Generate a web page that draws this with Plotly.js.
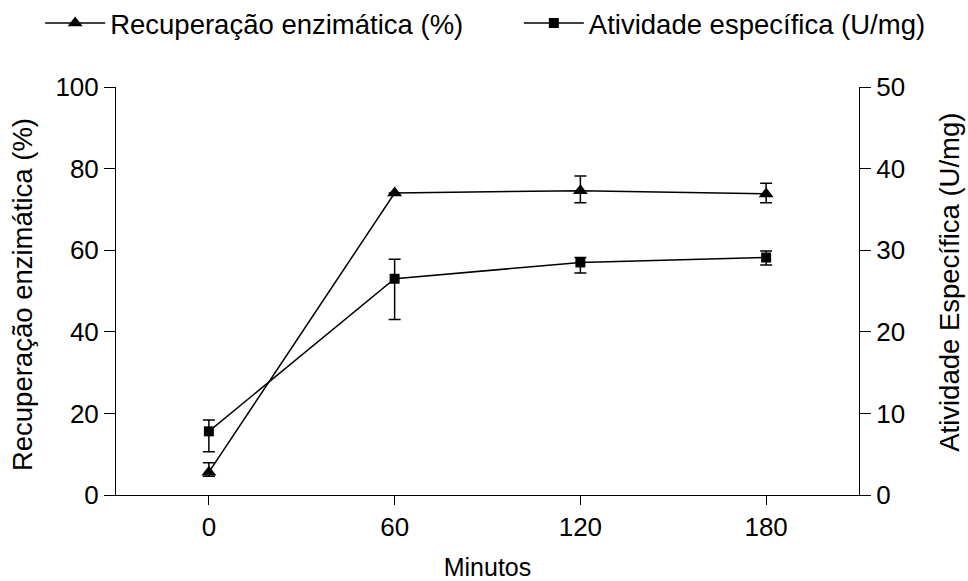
<!DOCTYPE html>
<html>
<head>
<meta charset="utf-8">
<script src="https://cdn.plot.ly/plotly-3.0.1.min.js"></script>
<style>html,body{margin:0;padding:0;background:#fff;}#chart{width:968px;height:581px;}</style>
</head>
<body>
<div id="chart"></div>
<script>
const minutes = [0, 60, 120, 180];
const xTickLabels = ["0", "60", "120", "180"];
const recovery = [5.6, 74.0, 74.6, 73.8];
const recoveryErrPlus = [2.3, 0.0, 3.6, 2.6];
const recoveryErrMinus = [1.0, 0.0, 3.0, 2.2];
const activity = [7.8, 26.5, 28.5, 29.1];
const activityErrPlus = [1.4, 2.4, 0.6, 0.8];
const activityErrMinus = [2.5, 5.0, 1.3, 0.9];
const leftTitle = 'Recuperação enzimática (%)';
const rightTitle = 'Atividade Específica (U/mg)';
const xTitle = 'Minutos';

const font = 'Liberation Sans, Arial, sans-serif';

const traces = [
  {
    x: minutes, y: recovery, name: 'Recuperação enzimática (%)',
    type: 'scatter', mode: 'lines+markers', yaxis: 'y', legend: 'legend',
    line: {color: '#000', width: 1.5},
    marker: {symbol: 'triangle-up', size: 13, color: '#000'},
    error_y: {type: 'data', symmetric: false, array: recoveryErrPlus, arrayminus: recoveryErrMinus,
              color: '#000', thickness: 1.5, width: 6}
  },
  {
    x: minutes, y: activity, name: 'Atividade específica (U/mg)',
    type: 'scatter', mode: 'lines+markers', yaxis: 'y2', legend: 'legend2',
    line: {color: '#000', width: 1.5},
    marker: {symbol: 'square', size: 10, color: '#000'},
    error_y: {type: 'data', symmetric: false, array: activityErrPlus, arrayminus: activityErrMinus,
              color: '#000', thickness: 1.5, width: 6}
  }
];

const legFont = {family: font, size: 27.5, color: '#000'};
const titleFont = {family: font, size: 27.5, color: '#000'};
const layout = {
  width: 968, height: 581,
  margin: {l: 116, r: 109, t: 87, b: 86, autoexpand: false},
  paper_bgcolor: '#fff', plot_bgcolor: '#fff',
  font: {family: font, size: 26, color: '#000'},
  showlegend: true,
  legend: {xref: 'container', yref: 'container', x: 0.0415, xanchor: 'left', y: 0.960, yanchor: 'middle',
           font: legFont, itemwidth: 60, bgcolor: 'rgba(0,0,0,0)'},
  legend2: {xref: 'container', yref: 'container', x: 0.536, xanchor: 'left', y: 0.960, yanchor: 'middle',
           font: legFont, itemwidth: 60, bgcolor: 'rgba(0,0,0,0)'},
  xaxis: {
    range: [-30, 210], tickvals: minutes, ticktext: xTickLabels,
    showline: true, linecolor: '#000', linewidth: 1, mirror: false,
    ticks: 'outside', ticklen: 9, tickwidth: 1, tickcolor: '#000',
    showgrid: false, zeroline: false,
    tickfont: {family: font, size: 26, color: '#000'},
    title: {text: xTitle, font: {family: font, size: 25, color: '#000'}}
  },
  yaxis: {
    range: [0, 100], dtick: 20, tick0: 0,
    showline: true, linecolor: '#000', linewidth: 1,
    ticks: 'outside', ticklen: 11, tickwidth: 1, tickcolor: '#000',
    showgrid: false, zeroline: false,
    tickfont: {family: font, size: 26, color: '#000'}
  },
  yaxis2: {
    range: [0, 50], dtick: 10, tick0: 0, overlaying: 'y', side: 'right',
    showline: true, linecolor: '#000', linewidth: 1,
    ticks: 'outside', ticklen: 11, tickwidth: 1, tickcolor: '#000',
    showgrid: false, zeroline: false,
    tickfont: {family: font, size: 26, color: '#000'}
  },
  annotations: [
    {text: leftTitle, xref: 'paper', yref: 'paper', x: (22 - 116) / 743, y: 0.49,
     xanchor: 'center', yanchor: 'middle', textangle: -90, showarrow: false, font: titleFont},
    {text: rightTitle, xref: 'paper', yref: 'paper', x: (950 - 116) / 743, y: 0.52,
     xanchor: 'center', yanchor: 'middle', textangle: -90, showarrow: false, font: titleFont}
  ]
};

Plotly.newPlot('chart', traces, layout, {displayModeBar: false, staticPlot: true});
</script>
</body>
</html>
